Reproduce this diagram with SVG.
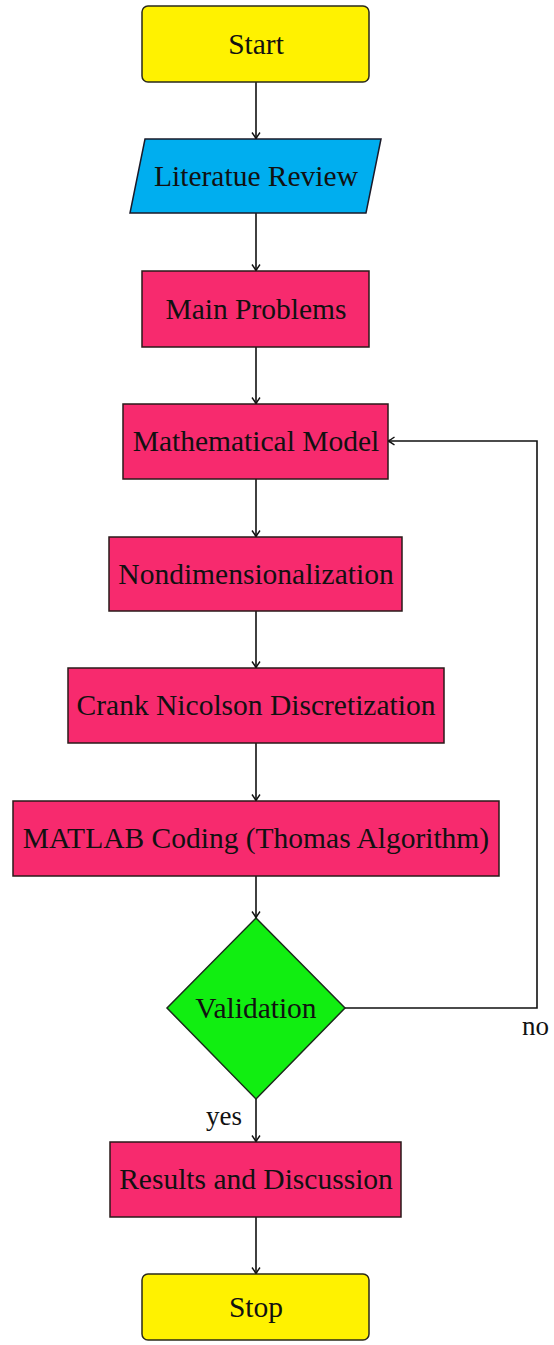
<svg xmlns="http://www.w3.org/2000/svg" width="554" height="1345" viewBox="0 0 554 1345">
<style>
.box{fill:#F72A6E;stroke:#2a1a1a;stroke-width:1.5}
.term{fill:#FFF200;stroke:#2a2a1a;stroke-width:1.5}
.io{fill:#00AEEF;stroke:#1a1a2a;stroke-width:1.5}
.dec{fill:#11EE11;stroke:#1a2a1a;stroke-width:1.5}
.t{font-family:"Liberation Serif","Times New Roman",serif;font-size:29.5px;fill:#111;text-anchor:middle}
.lbl{font-family:"Liberation Serif","Times New Roman",serif;font-size:27px;fill:#111}
.c{fill:none;stroke:#111;stroke-width:1.6}
</style>
<defs>
<marker id="arr" viewBox="-8 -5 10 10" refX="0" refY="0" markerWidth="10" markerHeight="10" markerUnits="userSpaceOnUse" orient="auto">
<path d="M -6.5 -4 Q -2.5 -1 0 0 Q -2.5 1 -6.5 4" fill="none" stroke="#111" stroke-width="1.4"/>
</marker>
</defs>
<g id="connectors">
<line class="c" x1="256" y1="82" x2="256" y2="139" marker-end="url(#arr)"/>
<line class="c" x1="256" y1="213" x2="256" y2="271" marker-end="url(#arr)"/>
<line class="c" x1="256" y1="347" x2="256" y2="404" marker-end="url(#arr)"/>
<line class="c" x1="256" y1="479" x2="256" y2="537" marker-end="url(#arr)"/>
<line class="c" x1="256" y1="611" x2="256" y2="668" marker-end="url(#arr)"/>
<line class="c" x1="256" y1="743" x2="256" y2="801" marker-end="url(#arr)"/>
<line class="c" x1="256" y1="876" x2="256" y2="918" marker-end="url(#arr)"/>
<line class="c" x1="256" y1="1099" x2="256" y2="1142" marker-end="url(#arr)"/>
<line class="c" x1="256" y1="1217" x2="256" y2="1274" marker-end="url(#arr)"/>
<polyline class="c" points="345,1008 537,1008 537,441 388,441" marker-end="url(#arr)"/>
<text class="lbl" x="522" y="1035">no</text>
<text class="lbl" x="206" y="1125">yes</text>
</g>
<g id="start"><rect class="term" x="142" y="6" width="227" height="76" rx="6"/><text class="t" x="256" y="54">Start</text></g>
<g id="literature"><polygon class="io" points="145,139 381,139 366,213 130,213"/><text class="t" x="256" y="186">Literatue Review</text></g>
<g id="problems"><rect class="box" x="142" y="271" width="227" height="76"/><text class="t" x="256" y="319">Main Problems</text></g>
<g id="model"><rect class="box" x="123" y="404" width="265" height="75"/><text class="t" x="256" y="451">Mathematical Model</text></g>
<g id="nondim"><rect class="box" x="109" y="537" width="293" height="74"/><text class="t" x="256" y="584">Nondimensionalization</text></g>
<g id="crank"><rect class="box" x="68" y="668" width="376" height="75"/><text class="t" x="256" y="715">Crank Nicolson Discretization</text></g>
<g id="matlab"><rect class="box" x="13" y="801" width="486" height="75"/><text class="t" x="256" y="848">MATLAB Coding (Thomas Algorithm)</text></g>
<g id="validation"><polygon class="dec" points="256,918 345,1008 256,1099 167,1008"/><text class="t" x="256" y="1018">Validation</text></g>
<g id="results"><rect class="box" x="110" y="1142" width="291" height="75"/><text class="t" x="256" y="1189">Results and Discussion</text></g>
<g id="stop"><rect class="term" x="142" y="1274" width="227" height="66" rx="6"/><text class="t" x="256" y="1317">Stop</text></g>
</svg>
